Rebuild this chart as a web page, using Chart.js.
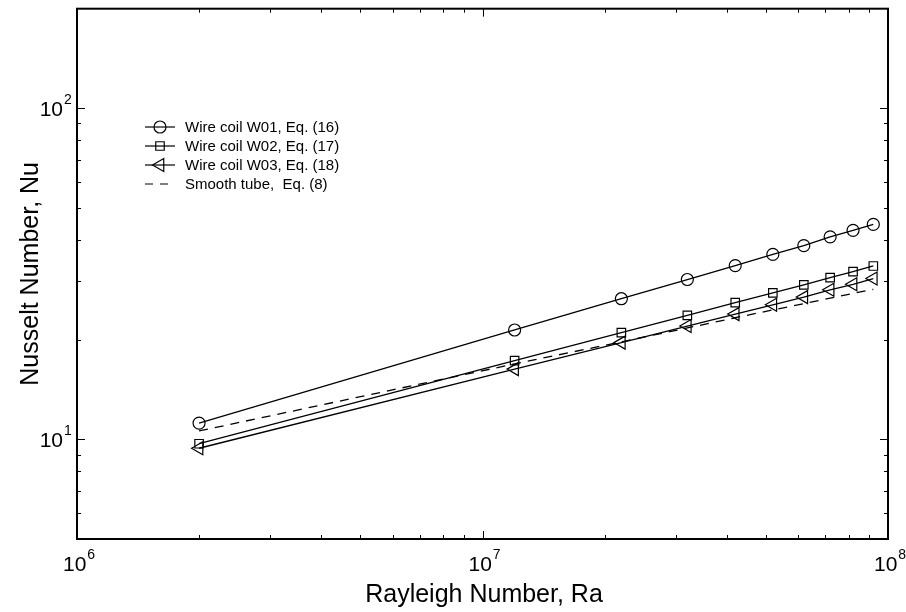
<!DOCTYPE html>
<html>
<head>
<meta charset="utf-8">
<script src="https://cdn.jsdelivr.net/npm/chart.js@4.4.1/dist/chart.umd.min.js"></script>
<style>
  html, body { margin: 0; padding: 0; background: #fff; }
  canvas { display: block; }
</style>
</head>
<body>
<canvas id="chart" width="906" height="612"></canvas>
<script>
const rayleigh = [2e6, 1.2e7, 2.2e7, 3.2e7, 4.2e7, 5.2e7, 6.2e7, 7.2e7, 8.2e7, 9.2e7]
const nuW01 = [11.2, 21.4, 26.6, 30.4, 33.5, 36.2, 38.5, 40.9, 42.8, 44.6]
const nuW02 = [9.7, 17.3, 21.0, 23.7, 25.9, 27.7, 29.3, 30.8, 32.1, 33.4]
const nuW03 = [9.4, 16.3, 19.6, 22.0, 23.9, 25.5, 26.9, 28.3, 29.4, 30.6]
const nuSmooth = [10.6, 16.9, 19.7, 21.7, 23.3, 24.6, 25.7, 26.7, 27.6, 28.4]
const seriesLabels = [
  'Wire coil W01, Eq. (16)',
  'Wire coil W02, Eq. (17)',
  'Wire coil W03, Eq. (18)',
  'Smooth tube,  Eq. (8)'
]
const xDecades = [6, 7, 8]
const yDecades = [1, 2]
const xTitle = 'Rayleigh Number, Ra'
const yTitle = 'Nusselt Number, Nu'

const FONT = '"Liberation Sans", Arial, Helvetica, sans-serif'
const DASH = [9, 7]

const pts = ys => ys.map((y, i) => ({x: rayleigh[i], y: y}))
const series = (label, ys, style, radius, rotation) => ({
  label: label,
  data: pts(ys),
  borderColor: '#000',
  borderWidth: 1.3,
  pointStyle: style,
  pointRadius: radius,
  pointHoverRadius: radius,
  pointRotation: rotation,
  pointBorderColor: '#000',
  pointBorderWidth: 1.2,
  pointBackgroundColor: 'rgba(0,0,0,0)',
  tension: 0
})

const datasets = [
  series(seriesLabels[0], nuW01, 'circle', 6, 0),
  series(seriesLabels[1], nuW02, 'rect', 6, 0),
  series(seriesLabels[2], nuW03, 'triangle', 7.5, 270),
  Object.assign(series(seriesLabels[3], nuSmooth, false, 0, 0), {borderDash: DASH})
]

// log ticks: mantissas 1..9 strictly inside [min, max]
function logTicks(min, max) {
  const out = []
  for (let e = Math.floor(Math.log10(min)); e <= Math.ceil(Math.log10(max)); e++) {
    for (let m = 1; m <= 9; m++) {
      const v = m * Math.pow(10, e)
      if (v > min * 1.0001 && v < max * 0.9999) out.push({v: v, major: m === 1})
    }
  }
  return out
}

function drawPow(ctx, exp, x, y, align) {
  // "10" with a raised exponent; x is the anchor, y the baseline
  ctx.font = `21px ${FONT}`
  const w = ctx.measureText('10').width
  let left = x
  if (align === 'right') left = x - w
  if (align === 'center') left = x - 14
  ctx.textAlign = 'left'
  ctx.textBaseline = 'alphabetic'
  ctx.fillText('10', left, y)
  ctx.font = `14px ${FONT}`
  ctx.fillText(String(exp), left + w + 1, y - 12)
}

const axesPlugin = {
  id: 'frameAxes',
  afterDraw(chart) {
    const ctx = chart.ctx
    const a = chart.chartArea
    const xs = chart.scales.x
    const ys = chart.scales.y
    ctx.save()
    ctx.strokeStyle = '#000'
    ctx.fillStyle = '#000'

    // inward ticks on all four sides
    ctx.lineWidth = 1
    ctx.beginPath()
    logTicks(xs.min, xs.max).forEach(t => {
      const px = Math.round(xs.getPixelForValue(t.v)) + 0.5
      const len = t.major ? 8 : 4
      ctx.moveTo(px, a.bottom); ctx.lineTo(px, a.bottom - len)
      ctx.moveTo(px, a.top); ctx.lineTo(px, a.top + len)
    })
    logTicks(ys.min, ys.max).forEach(t => {
      const py = Math.round(ys.getPixelForValue(t.v)) + 0.5
      const len = t.major ? 8 : 4
      ctx.moveTo(a.left, py); ctx.lineTo(a.left + len, py)
      ctx.moveTo(a.right, py); ctx.lineTo(a.right - len, py)
    })
    ctx.stroke()

    // frame
    ctx.lineWidth = 2
    ctx.strokeRect(a.left, a.top, a.right - a.left, a.bottom - a.top)

    // tick labels
    xDecades.forEach(e => {
      const px = xs.getPixelForValue(Math.pow(10, e))
      drawPow(ctx, e, px, a.bottom + 32, 'center')
    })
    yDecades.forEach(e => {
      const py = ys.getPixelForValue(Math.pow(10, e))
      drawPow(ctx, e, a.left - 14, py + 8, 'right')
    })

    // axis titles
    ctx.font = `25px ${FONT}`
    ctx.textAlign = 'center'
    ctx.textBaseline = 'alphabetic'
    ctx.fillText(xTitle, 484, 602)
    ctx.save()
    ctx.translate(38, (a.top + a.bottom) / 2)
    ctx.rotate(-Math.PI / 2)
    ctx.fillText(yTitle, 0, 0)
    ctx.restore()

    // legend: line sample with marker, then label
    const lx0 = 145, lx1 = 175, tx = 185
    chart.data.datasets.forEach((ds, i) => {
      const ly = 127 + i * 19
      ctx.strokeStyle = '#000'
      ctx.lineWidth = 1.2
      ctx.beginPath()
      if (ds.borderDash) {
        ctx.moveTo(lx0, ly); ctx.lineTo(lx0 + 8, ly)
        ctx.moveTo(lx0 + 15, ly); ctx.lineTo(lx0 + 23, ly)
      } else {
        ctx.moveTo(lx0, ly); ctx.lineTo(lx1, ly)
      }
      ctx.stroke()
      if (ds.pointStyle) {
        ctx.fillStyle = 'rgba(0,0,0,0)'
        ctx.lineWidth = 1.2
        Chart.helpers.drawPoint(ctx, {
          pointStyle: ds.pointStyle,
          rotation: ds.pointRotation,
          radius: ds.pointRadius,
          borderWidth: 1.2
        }, (lx0 + lx1) / 2, ly)
      }
      ctx.fillStyle = '#000'
      ctx.font = `15px ${FONT}`
      ctx.textAlign = 'left'
      ctx.textBaseline = 'middle'
      ctx.fillText(ds.label, tx, ly + 1)
    })
    ctx.restore()
  }
}

new Chart(document.getElementById('chart'), {
  type: 'line',
  data: {datasets: datasets},
  options: {
    responsive: false,
    animation: false,
    layout: {padding: {left: 77, right: 18, top: 5, bottom: 73}},
    plugins: {legend: {display: false}, tooltip: {enabled: false}},
    scales: {
      x: {type: 'logarithmic', min: 1e6, max: 1e8, display: false},
      y: {type: 'logarithmic', min: 5, max: 200, display: false}
    }
  },
  plugins: [axesPlugin]
})
</script>
</body>
</html>
